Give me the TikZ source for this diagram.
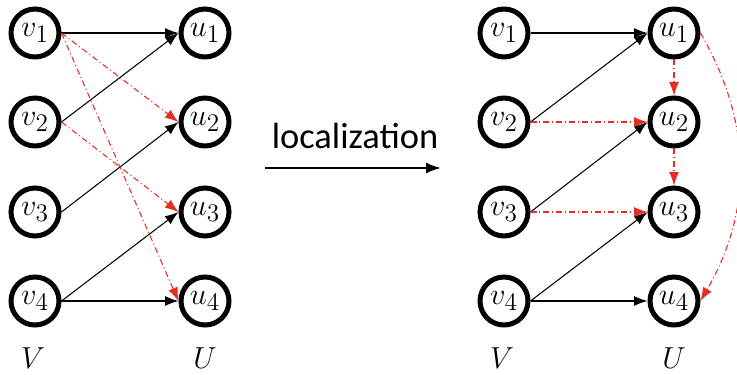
\documentclass[tikz,border=0pt]{standalone}
\usepackage{fontspec}
\setmainfont{Carlito}
\usetikzlibrary{arrows.meta}
\definecolor{locred}{RGB}{228,45,35}
\newcommand{\labelsize}{\fontsize{19}{22}\selectfont}

\begin{document}
\begin{tikzpicture}[x=0.02cm,y=-0.02cm]
  \tikzstyle{vertex}=[circle,draw,line width=0.1cm,minimum size=0.96cm,inner sep=0pt,font=\labelsize]
  \tikzstyle{edge}=[line width=0.6pt,-{Latex[length=0.27cm,width=0.2cm]}]
  \tikzstyle{local}=[edge,locred,dash pattern=on 0.12cm off 0.06cm on 0.02cm off 0.06cm]

  \useasboundingbox (0,0) rectangle (737,375);

  % before
  \node[vertex] at (35, 33) (v1) {\(v_1\)};
  \node[vertex] at (35, 122) (v2) {\(v_2\)};
  \node[vertex] at (35, 212) (v3) {\(v_3\)};
  \node[vertex] at (35, 301) (v4) {\(v_4\)};

  \node[vertex] at (205, 33) (u1) {\(u_1\)};
  \node[vertex] at (205, 122) (u2) {\(u_2\)};
  \node[vertex] at (205, 212) (u3) {\(u_3\)};
  \node[vertex] at (205, 301) (u4) {\(u_4\)};

  \node[font=\labelsize] at (33, 358) (V) {\(V\)};
  \node[font=\labelsize] at (205, 358) (U) {\(U\)};

  \draw[edge] (v1.east) -- (u1.west);
  \draw[edge] (v2.east) -- (u1.west);
  \draw[edge] (v3.east) -- (u2.west);
  \draw[edge] (v4.east) -- (u3.west);
  \draw[edge] (v4.east) -- (u4.west);

  \draw[local] (v1.east) -- (u2.west);
  \draw[local] (v1.east) -- (u4.west);
  \draw[local] (v2.east) -- (u3.west);

  % localization
  \node[font=\huge] at (355, 136) (loc) {localization};
  \coordinate (a) at (265, 168);
  \coordinate (b) at (441, 168);
  \draw[line width=1.2pt,-{Latex[length=0.3cm,width=0.22cm]}] (a) -- (b);

  % after
  \node[vertex] at (504, 33) (v1') {\(v_1\)};
  \node[vertex] at (504, 122) (v2') {\(v_2\)};
  \node[vertex] at (504, 212) (v3') {\(v_3\)};
  \node[vertex] at (504, 301) (v4') {\(v_4\)};

  \node[vertex] at (674, 33) (u1') {\(u_1\)};
  \node[vertex] at (674, 122) (u2') {\(u_2\)};
  \node[vertex] at (674, 212) (u3') {\(u_3\)};
  \node[vertex] at (674, 301) (u4') {\(u_4\)};

  \node[font=\labelsize] at (502, 358) (V') {\(V\)};
  \node[font=\labelsize] at (674, 358) (U') {\(U\)};

  \draw[edge] (v1'.east) -- (u1'.west);
  \draw[edge] (v2'.east) -- (u1'.west);
  \draw[edge] (v3'.east) -- (u2'.west);
  \draw[edge] (v4'.east) -- (u3'.west);
  \draw[edge] (v4'.east) -- (u4'.west);

  \draw[local] (v2'.east) -- (u2'.west);
  \draw[local] (v3'.east) -- (u3'.west);
  \draw[local] (u1'.south) -- (u2'.north);
  \draw[local] (u2'.south) -- (u3'.north);
  \draw[local] (u1'.east) to[bend left=30] (u4'.east);

\end{tikzpicture}
\end{document}
